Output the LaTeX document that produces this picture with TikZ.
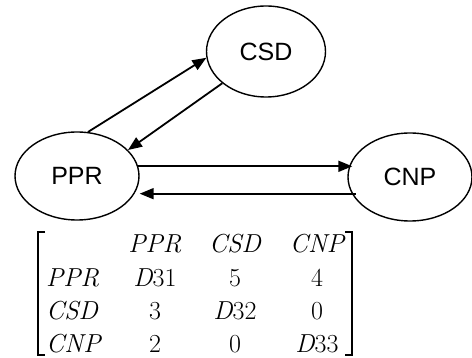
\documentclass[tikz,border=0pt]{standalone}
\usepackage{fontspec}
\newfontfamily\labelfont{Liberation Sans}
\usetikzlibrary{arrows.meta,shapes.geometric}
\newcommand\mv[1]{{\itshape #1}}
\begin{document}
\begin{tikzpicture}[x=1pt,y=-1pt,
  state/.style={ellipse,draw,line width=1.4pt,inner sep=0pt,
    font=\labelfont\fontsize{25}{30}\selectfont},
  link/.style={line width=1.8pt,-{Triangle[length=14pt,width=11pt]}},
  cell/.style={anchor=base,inner sep=0pt,font=\fontsize{26}{31}\selectfont},
  rowlab/.style={cell,anchor=base west},
  bracket/.style={line width=1.3pt}]
\useasboundingbox (0,0) rectangle (472,358);

% states
\node[state,minimum width=119pt,minimum height=91pt] (csd) at (266,51.5) {CSD};
\node[state,minimum width=124pt,minimum height=88pt] (ppr) at (77,176) {PPR};
\node[state,minimum width=124pt,minimum height=88pt] (cnp) at (410,177) {CNP};

% transitions
\draw[link] (ppr.76) -- (csd.186);
\draw[link] (csd.216) -- (ppr.27);
\draw[link,shorten >=-5pt] (ppr.9) -- (ppr.9 -| cnp.west);
\draw[link,shorten <=-4pt] (cnp.196) -- (cnp.196 -| ppr.east);

% transition matrix
\node[cell] (h1) at (155,253) {\mv{PPR}};
\node[cell] (h2) at (235,253) {\mv{CSD}};
\node[cell] (h3) at (317,253) {\mv{CNP}};

\node[rowlab] (r1) at (46,287) {\mv{PPR}};
\node[rowlab] (r2) at (46,320) {\mv{CSD}};
\node[rowlab] (r3) at (46,353) {\mv{CNP}};

\node[cell] (m11) at (155,287) {\mv{D}31};
\node[cell] (m12) at (235,287) {5};
\node[cell] (m13) at (317,287) {4};
\node[cell] (m21) at (155,320) {3};
\node[cell] (m22) at (235,320) {\mv{D}32};
\node[cell] (m23) at (317,320) {0};
\node[cell] (m31) at (155,353) {2};
\node[cell] (m32) at (235,353) {0};
\node[cell] (m33) at (317,353) {\mv{D}33};

\draw[bracket] (45,232) -- (38,232) -- (38,355) -- (45,355);
\draw[bracket] (345,232) -- (352,232) -- (352,355) -- (345,355);
\end{tikzpicture}
\end{document}
